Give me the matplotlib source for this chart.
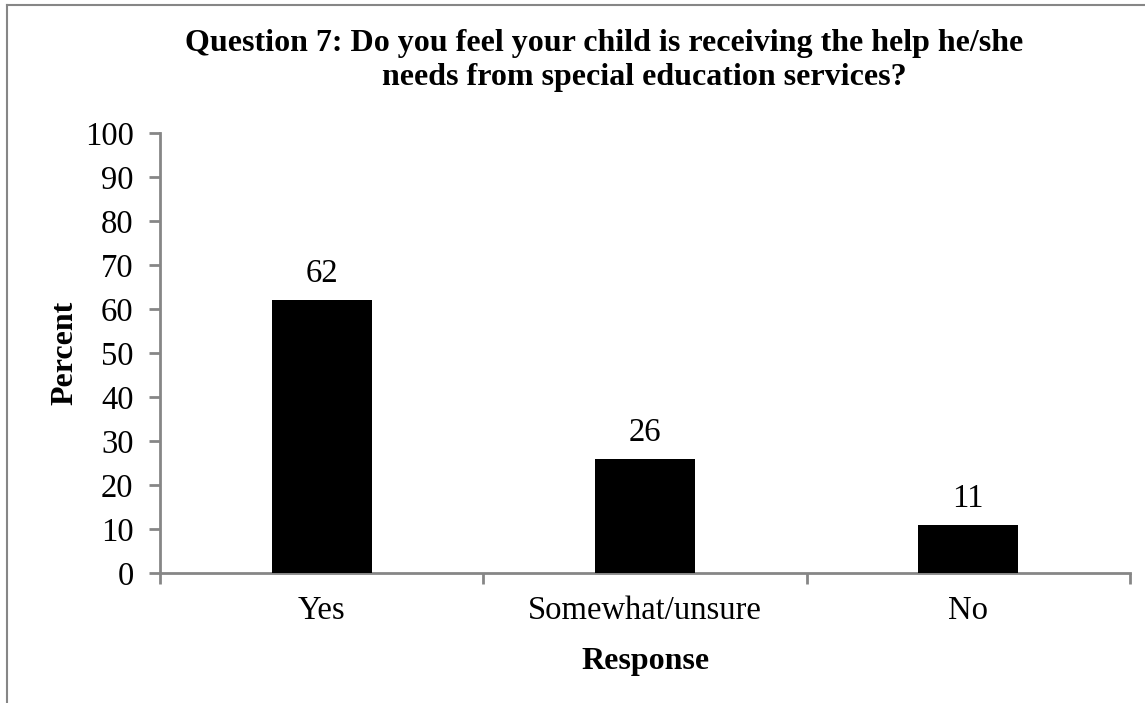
import matplotlib.pyplot as plt
from matplotlib.lines import Line2D

CATEGORIES = ["Yes", "Somewhat/unsure", "No"]
PERCENTS = [62, 26, 11]
TITLE_LINES = ["Question 7: Do you feel your child is receiving the help he/she",
               "needs from special education services?"]

plt.rcParams["font.family"] = ["Liberation Serif", "DejaVu Serif"]
GREY = "#868686"

fig = plt.figure(figsize=(11.45, 7.03), dpi=100)
ax = fig.add_axes([160 / 1145, 1 - 573 / 703, 970 / 1145, 440 / 703])

x = range(len(CATEGORIES))
bars = ax.bar(x, PERCENTS, width=0.31, color="black", zorder=3)
for bar, value in zip(bars, PERCENTS):
    ax.text(bar.get_x() + bar.get_width() / 2, value + 2.5, str(value),
            ha="center", va="bottom", fontsize=23.5)

ax.set_xlim(-0.5, len(CATEGORIES) - 0.5)
ax.set_ylim(0, 100)
ax.set_yticks(range(0, 101, 10))
ax.set_xticks(list(x))
ax.set_xticklabels(CATEGORIES)
ax.set_xticks([i - 0.5 for i in range(len(CATEGORIES) + 1)], minor=True)
ax.tick_params(axis="x", which="major", length=0, labelsize=23.5, pad=16)
ax.tick_params(axis="x", which="minor", length=8, width=2, color=GREY)
ax.tick_params(axis="y", length=8, width=2, color=GREY, labelsize=23.5, pad=11)

for side in ["top", "right"]:
    ax.spines[side].set_visible(False)
for side in ["left", "bottom"]:
    ax.spines[side].set_color(GREY)
    ax.spines[side].set_linewidth(2)

ax.set_xlabel("Response", fontsize=23, fontweight="bold", labelpad=15)
ax.set_ylabel("Percent", fontsize=23, fontweight="bold", labelpad=4)

# title lines are centred separately, as in the original
fig.text(604 / 1145, 1 - 44 / 703, TITLE_LINES[0], ha="center", va="center",
         fontsize=23, fontweight="bold")
fig.text(644 / 1145, 1 - 78 / 703, TITLE_LINES[1], ha="center", va="center",
         fontsize=23, fontweight="bold")

# chart-area border (only left and top edges show in the crop)
fig.add_artist(Line2D([7 / 1145, 7 / 1145], [0, 1 - 5 / 703], color=GREY, lw=1.5))
fig.add_artist(Line2D([7 / 1145, 1], [1 - 5 / 703, 1 - 5 / 703], color=GREY, lw=1.5))

fig.savefig("out.png", dpi=100)
